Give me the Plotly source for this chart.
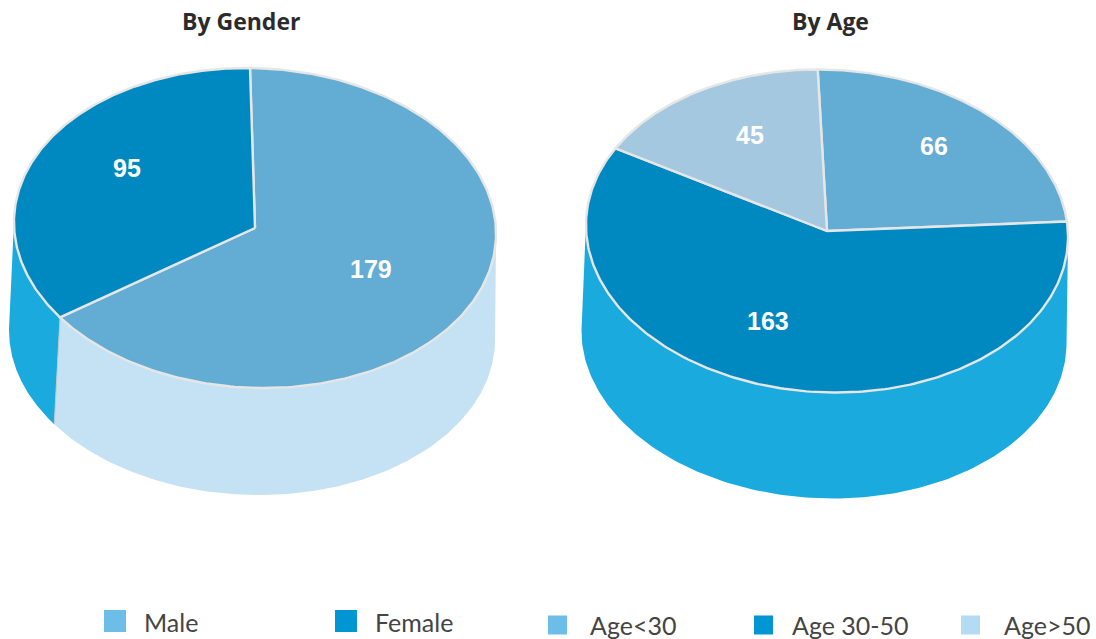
import numpy as np
import plotly.graph_objects as go

gender_labels = ["Male", "Female"]
gender_values = [179, 95]
age_labels = ["Age<30", "Age 30-50", "Age>50"]
age_values = [66, 163, 45]

FONT = "Lato, 'Open Sans', sans-serif"
TITLE_FONT = "'Open Sans', Lato, sans-serif"
EDGE = "#e6e6e6"
TOP_COLORS = {"Male": "#63add4", "Female": "#0088c0", "Age<30": "#63add4",
              "Age 30-50": "#0088c0", "Age>50": "#a4c8df"}
WALL_COLORS = {"Male": "#c4e2f4", "Female": "#1aaade", "Age<30": "#1aaade",
               "Age 30-50": "#1aaade", "Age>50": "#1aaade"}
KEY_COLORS = {"Male": "#6cbde8", "Female": "#0095d3", "Age<30": "#6cbde8",
              "Age 30-50": "#0095d3", "Age>50": "#b3dbf1"}

fig = go.Figure()


def pt(e, deg):
    # slightly rotated ellipse: k and j shift the vertical and horizontal extremes
    a = np.radians(deg)
    x = e["cx"] + e["rx"] * np.sin(a) - e["k"] * np.cos(a)
    y = e["cy"] - e["ry"] * np.cos(a) + e["j"] * np.sin(a)
    return x, y


def poly(x, y, color, name, line=None):
    fig.add_trace(go.Scatter(
        x=x, y=y, mode="lines", fill="toself", fillcolor=color, name=name,
        line=line or dict(width=0, color=color), hoverinfo="name", showlegend=False))


def pie(labels, values, start, top, bottom, divider):
    total = sum(values)
    edges = start + np.cumsum([0] + values) * 360.0 / total
    # walls: only the front part is visible, the top face covers the rest
    for i, lab in enumerate(labels):
        a, b = max(edges[i], 91), min(edges[i + 1], 271)
        if b <= a:
            continue
        t = np.linspace(a, b, 160)
        xt, yt = pt(top, t)
        xb, yb = pt(bottom, t[::-1])
        poly(np.r_[xt, xb, xt[0]], np.r_[yt, yb, yt[0]], WALL_COLORS[lab], lab)
    if divider:
        d = edges[1]
        x0, y0 = pt(top, d)
        x1, y1 = pt(bottom, d)
        fig.add_trace(go.Scatter(x=[x0, x1], y=[y0, y1], mode="lines", hoverinfo="skip",
                                 line=dict(color="#c4c8cc", width=1), showlegend=False))
    # top face
    for i, lab in enumerate(labels):
        t = np.linspace(edges[i], edges[i + 1], 240)
        xt, yt = pt(top, t)
        poly(np.r_[top["cx"], xt, top["cx"]], np.r_[top["cy"], yt, top["cy"]],
             TOP_COLORS[lab], f"{lab}: {values[i]}", line=dict(color=EDGE, width=2.4))


pie(gender_labels, gender_values, 0,
    dict(cx=255, cy=228, rx=241, ry=160, k=5, j=2.5),
    dict(cx=252, cy=335, rx=243, ry=160, k=3, j=2.5), True)
pie(age_labels, age_values, -1.5,
    dict(cx=827, cy=231, rx=241, ry=161.5, k=3, j=4),
    dict(cx=824, cy=337, rx=242.5, ry=161.5, k=3, j=4), False)

annotations = []


def text(x, y, s, size, color, family=FONT, weight=None):
    annotations.append(dict(x=x, y=y, text=s, showarrow=False, xref="x", yref="y",
                            xanchor="center", yanchor="middle",
                            font=dict(family=family, size=size, color=color,
                                      weight=weight)))


text(240.5, 20.5, "By Gender", 23, "#2b2b2b", family=TITLE_FONT, weight="bold")
text(830.5, 20.5, "By Age", 23, "#2b2b2b", family=TITLE_FONT, weight="bold")

value_pos = [(370.5, 269), (127, 168), (934, 146), (768, 321), (750, 135)]
for (x, y), v in zip(value_pos, gender_values + age_values):
    text(x, y, str(v), 25, "white", family="'Liberation Sans', Arial, sans-serif", weight="bold")

key_pos = {"Male": (115, 621, 22, 142), "Female": (346, 621, 22, 373),
           "Age<30": (557.5, 625, 19, 588), "Age 30-50": (763.5, 625, 19, 790),
           "Age>50": (970.5, 625, 19, 1002)}
for lab, (mx, my, ms, tx) in key_pos.items():
    fig.add_trace(go.Scatter(x=[mx], y=[my], mode="markers", hoverinfo="skip", showlegend=False,
                             marker=dict(symbol="square", size=ms, color=KEY_COLORS[lab],
                                         line=dict(width=0))))
    annotations.append(dict(x=tx, y=my + (1 if ms == 22 else 0), text=lab, showarrow=False,
                            xanchor="left", yanchor="middle",
                            font=dict(family=FONT, size=25, color="#444444")))

fig.update_layout(
    width=1096, height=639, margin=dict(l=0, r=0, t=0, b=0),
    paper_bgcolor="white", plot_bgcolor="white", showlegend=False,
    xaxis=dict(range=[0, 1096], visible=False, fixedrange=True),
    yaxis=dict(range=[639, 0], visible=False, fixedrange=True),
    annotations=annotations,
)
fig.write_html("out.html", config={"displayModeBar": False},
               post_script="document.body.style.margin='0';document.body.style.overflow='hidden';")
